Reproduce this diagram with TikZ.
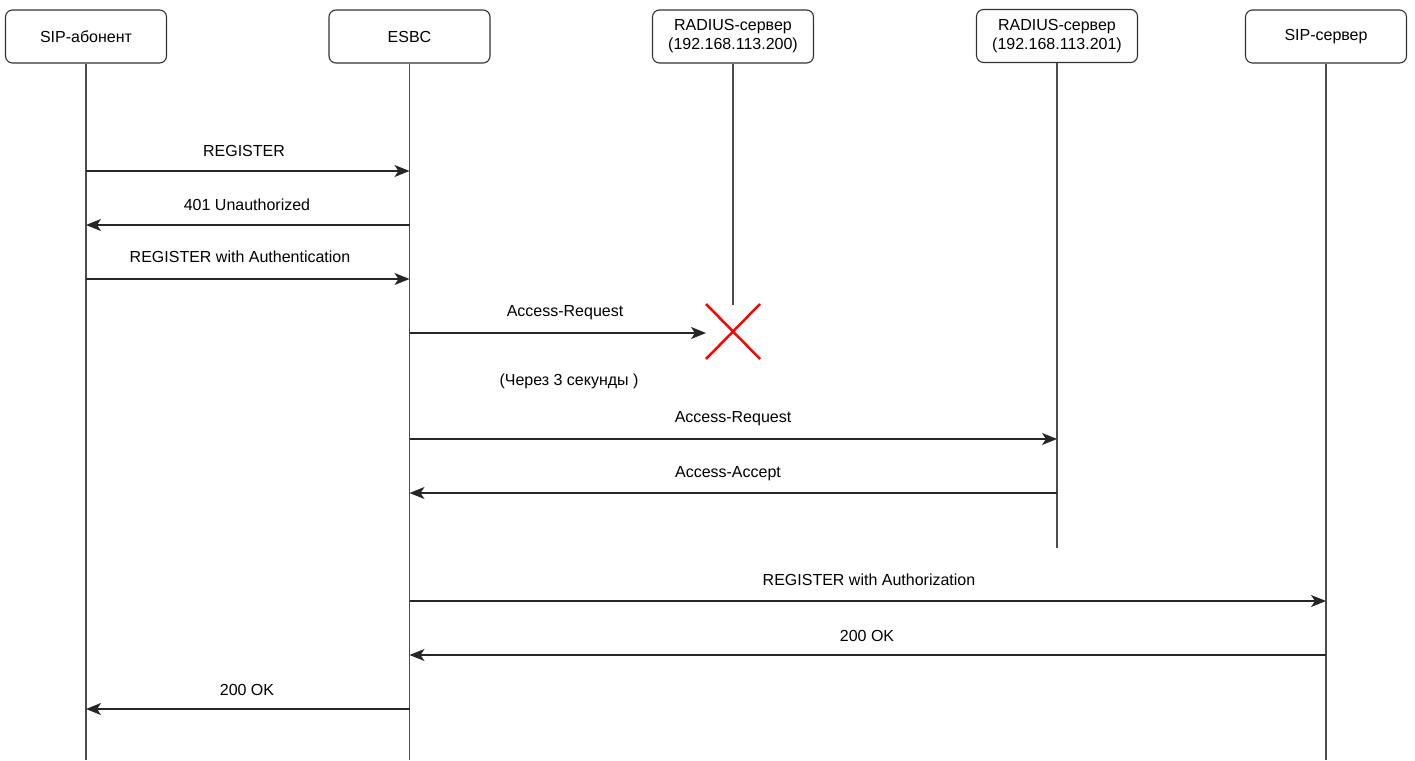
\documentclass[tikz,border=0pt]{standalone}
\usepackage{fontspec}
\setmainfont{Liberation Sans}
\usetikzlibrary{arrows.meta}

\begin{document}
\begin{tikzpicture}[
  x=1pt, y=-1pt,
  >={Stealth[length=15pt,width=12pt,inset=4pt]},
  font=\fontsize{16}{19}\selectfont,
  actor/.style={draw=black!80, line width=1.1pt, rounded corners=7pt, rectangle, minimum width=161pt, minimum height=53pt, align=center, inner sep=0pt},
  life/.style={draw=black!70, line width=1.3pt},
  msg/.style={->, draw=black!85, line width=1.2pt},
  lbl/.style={inner sep=1pt}
]
\useasboundingbox (0,0) rectangle (1415,760);

\node[actor] (abon) at (86,36.5) {SIP-абонент};
\node[actor] (esbc) at (409.5,36.5) {ESBC};
\node[actor] (rad1) at (733,36.5) {RADIUS-сервер\\(192.168.113.200)};
\node[actor] (rad2) at (1057,36) {RADIUS-сервер\\(192.168.113.201)};
\node[actor] (sips) at (1326,36.5) {SIP-сервер};

% lifelines
\coordinate (abonEnd) at (86,760);
\coordinate (esbcEnd) at (409.5,760);
\coordinate (rad1End) at (733,305);
\coordinate (rad2End) at (1057,548);
\coordinate (sipsEnd) at (1326,760);
\draw[life] (abon.south) -- (abonEnd);
\draw[life] (esbc.south) -- (esbcEnd);
\draw[life] (rad1.south) -- (rad1End);
\draw[life] (rad2.south) -- (rad2End);
\draw[life] (sips.south) -- (sipsEnd);

% failed server
\coordinate (lost) at (706,333);
\draw[red, line width=2.5pt] (706,304) -- (760,359) (760,304) -- (706,359);

% messages
\draw[msg] (abon |- 0,171) -- (esbc |- 0,171);
\node[lbl] (m1) at (244,151) {REGISTER};
\draw[msg] (esbc |- 0,225) -- (abon |- 0,225);
\node[lbl] (m2) at (247,205) {401 Unauthorized};
\draw[msg] (abon |- 0,279) -- (esbc |- 0,279);
\node[lbl] (m3) at (240,257) {REGISTER with Authentication};
\draw[msg] (esbc |- 0,333) -- (lost);
\node[lbl] (m4) at (565,313) {Access-Request};
\node[lbl] (wait) at (569,381) {(Через 3 секунды )};
\draw[msg] (esbc |- 0,439) -- (rad2 |- 0,439);
\node[lbl] (m5) at (733,419) {Access-Request};
\draw[msg] (rad2 |- 0,493) -- (esbc |- 0,493);
\node[lbl] (m6) at (728,474) {Access-Accept};
\draw[msg] (esbc |- 0,601) -- (sips |- 0,601);
\node[lbl] (m7) at (869,580) {REGISTER with Authorization};
\draw[msg] (sips |- 0,655) -- (esbc |- 0,655);
\node[lbl] (m8) at (867,636) {200 OK};
\draw[msg] (esbc |- 0,709) -- (abon |- 0,709);
\node[lbl] (m9) at (247,690) {200 OK};
\end{tikzpicture}
\end{document}
